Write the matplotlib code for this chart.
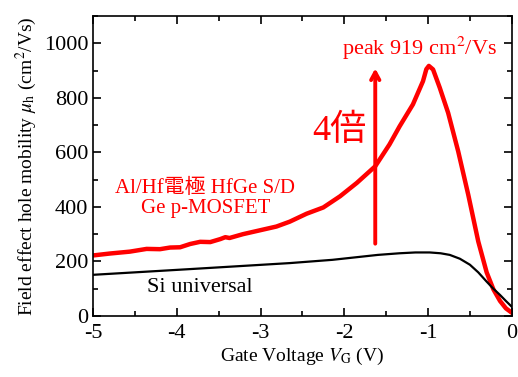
import numpy as np
import matplotlib
matplotlib.use("Agg")
import matplotlib.pyplot as plt
from matplotlib.ticker import MultipleLocator

plt.rcParams['font.family'] = ['Liberation Serif', 'Noto Sans CJK JP']
plt.rcParams['mathtext.fontset'] = 'stix'

# Ge p-MOSFET (Al/Hf electrode, HfGe S/D)
ge_vg = [-5.0, -4.80, -4.56, -4.36, -4.20, -4.08, -3.96, -3.84, -3.72, -3.60,
         -3.48, -3.42, -3.37, -3.21, -3.01, -2.81, -2.65, -2.45, -2.25, -2.05,
         -1.85, -1.63, -1.46, -1.34, -1.18, -1.06, -1.02, -0.99, -0.94, -0.86,
         -0.76, -0.64, -0.52, -0.40, -0.30, -0.22, -0.14, -0.07, 0.0]
ge_mu = [222, 229, 236, 246, 245, 251, 252, 264, 272, 271,
         282, 289, 286, 300, 314, 328, 346, 375, 398, 439,
         488, 549, 629, 695, 776, 861, 905, 917, 904, 837,
         745, 604, 445, 273, 160, 98, 55, 28, 12]

# Si universal
si_vg = [-5.0, -3.84, -2.65, -2.14, -1.6, -1.34, -1.15, -0.98, -0.85, -0.74,
         -0.62, -0.50, -0.40, -0.30, -0.22, -0.14, -0.07, 0.0]
si_mu = [151, 172, 194, 206, 224, 230, 233, 233, 230, 224,
         210, 188, 160, 126, 100, 77, 55, 34]

fig = plt.figure(figsize=(5.18, 3.77), dpi=100)
ax = fig.add_axes([0.1795, 0.1618, 0.8085, 0.7958])

ax.plot(ge_vg, ge_mu, color='red', lw=3.2, solid_capstyle='round',
        solid_joinstyle='round')
ax.plot(si_vg, si_mu, color='black', lw=1.6, solid_joinstyle='round')

ax.set_xlim(-5, 0)
ax.set_ylim(0, 1100)
ax.xaxis.set_major_locator(MultipleLocator(1))
ax.xaxis.set_minor_locator(MultipleLocator(0.5))
ax.yaxis.set_major_locator(MultipleLocator(200))
ax.yaxis.set_minor_locator(MultipleLocator(100))
ax.tick_params(which='both', direction='in', top=True, right=True, width=1.2)
ax.tick_params(which='major', length=6, labelsize=16)
ax.tick_params(which='minor', length=3.5)
ax.tick_params(axis='x', which='major', pad=6)
for s in ax.spines.values():
    s.set_linewidth(1.2)
ax.set_xticks([-5, -4, -3, -2, -1, 0])
ax.set_xticklabels(['-5', '-4', '-3', '-2', '-1', '0'])

ax.set_xlabel('Gate Voltage $V_{\\rm G}$ (V)', fontsize=14, labelpad=2)
ax.set_ylabel('Field effect hole mobility $\\mu_{\\rm h}$ (cm$^2$/Vs)',
              fontsize=14, labelpad=3)

ax.annotate('', xy=(-1.63, 918), xytext=(-1.63, 255),
            arrowprops=dict(arrowstyle='->,head_width=0.3,head_length=0.55',
                            color='red', lw=2.8))
ax.text(-1.1, 958, 'peak 919 cm$^2$/Vs', color='red', fontsize=16,
        ha='center', va='baseline')
ax.text(-1.74, 678, '4倍', color='red', fontsize=26, ha='right', va='center')
ax.text(-3.66, 432, 'Al/Hf電極 HfGe S/D\nGe p-MOSFET', color='red',
        fontsize=15, ha='center', va='center', linespacing=1.05)
ax.text(-3.73, 103, 'Si universal', color='black', fontsize=16,
        ha='center', va='center')

fig.savefig('out.png', dpi=100)
